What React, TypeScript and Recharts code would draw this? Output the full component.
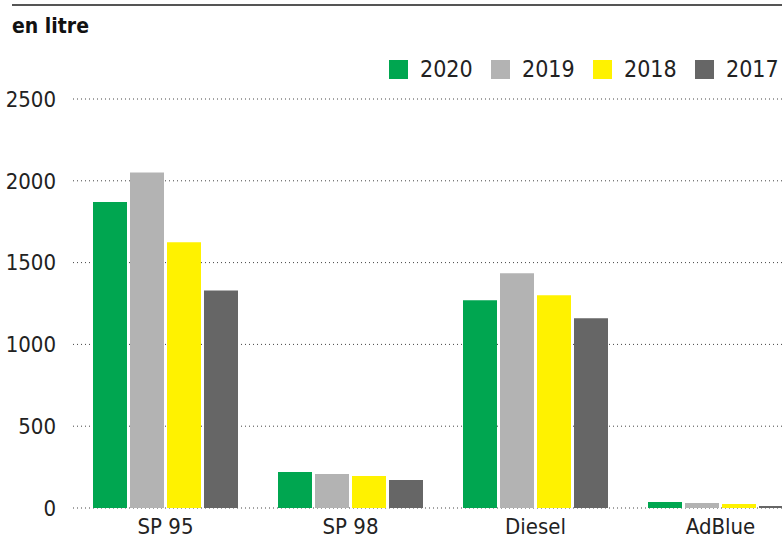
import { BarChart, Bar, XAxis, YAxis, CartesianGrid } from 'recharts';

const FONT = "'DejaVu Sans', 'Liberation Sans', sans-serif";

const categories = ['SP 95', 'SP 98', 'Diesel', 'AdBlue'];
const yTicks = [0, 500, 1000, 1500, 2000, 2500];

const v2020 = [1870, 220, 1270, 37];
const v2019 = [2050, 208, 1435, 31];
const v2018 = [1625, 196, 1300, 25];
const v2017 = [1330, 171, 1160, 12];

const SERIES = [
  { key: 'y2020', label: '2020', color: '#00a650', values: v2020 },
  { key: 'y2019', label: '2019', color: '#b3b3b3', values: v2019 },
  { key: 'y2018', label: '2018', color: '#fff200', values: v2018 },
  { key: 'y2017', label: '2017', color: '#666666', values: v2017 },
];

const data = categories.map((name, i) => {
  const row: Record<string, string | number> = { name };
  SERIES.forEach((s) => {
    row[s.key] = s.values[i]!;
  });
  return row;
});

export default function App() {
  return (
    <div
      style={{
        position: 'fixed',
        left: 0,
        top: 0,
        width: '782px',
        height: '541px',
        overflow: 'hidden',
        fontFamily: FONT,
        fontStretch: 'condensed',
        background: '#fff',
      }}
    >
      {/* top rule */}
      <div
        style={{
          position: 'absolute',
          left: '12px',
          right: 0,
          top: '4px',
          height: '2px',
          background: '#555',
        }}
      />
      {/* unit label */}
      <div
        style={{
          position: 'absolute',
          left: '12px',
          top: '14px',
          fontSize: '21px',
          fontWeight: 700,
          color: '#111',
          lineHeight: '24px',
        }}
      >
        en litre
      </div>

      {/* legend */}
      {SERIES.map((s, i) => (
        <div
          key={s.key}
          style={{
            position: 'absolute',
            left: `${389 + i * 102}px`,
            top: '56px',
            display: 'flex',
            alignItems: 'center',
            gap: '12px',
          }}
        >
          <div
            style={{
              width: '19px',
              height: '19px',
              background: s.color,
              flexShrink: 0,
            }}
          />
          <span style={{ fontSize: '23px', color: '#222', lineHeight: '26px' }}>
            {s.label}
          </span>
        </div>
      ))}

      <div style={{ position: 'absolute', left: 0, top: 0 }}>
        <BarChart
          width={813}
          height={541}
          data={data}
          margin={{ top: 99, right: 0, bottom: 0, left: 0 }}
          barSize={34}
          barGap={3}
          barCategoryGap={20}
        >
          <CartesianGrid
            vertical={false}
            stroke="#444"
            strokeDasharray="1 3"
          />
          <XAxis
            dataKey="name"
            axisLine={false}
            tickLine={false}
            height={33}
            tickMargin={4}
            tick={{ fontSize: 22, fill: '#222' }}
          />
          <YAxis
            domain={[0, 2500]}
            ticks={yTicks}
            width={73}
            axisLine={false}
            tickLine={false}
            tickMargin={11}
            tick={{ fontSize: 22, fill: '#222' }}
          />
          {SERIES.map((s) => (
            <Bar
              key={s.key}
              dataKey={s.key}
              fill={s.color}
              isAnimationActive={false}
            />
          ))}
        </BarChart>
      </div>
    </div>
  );
}
